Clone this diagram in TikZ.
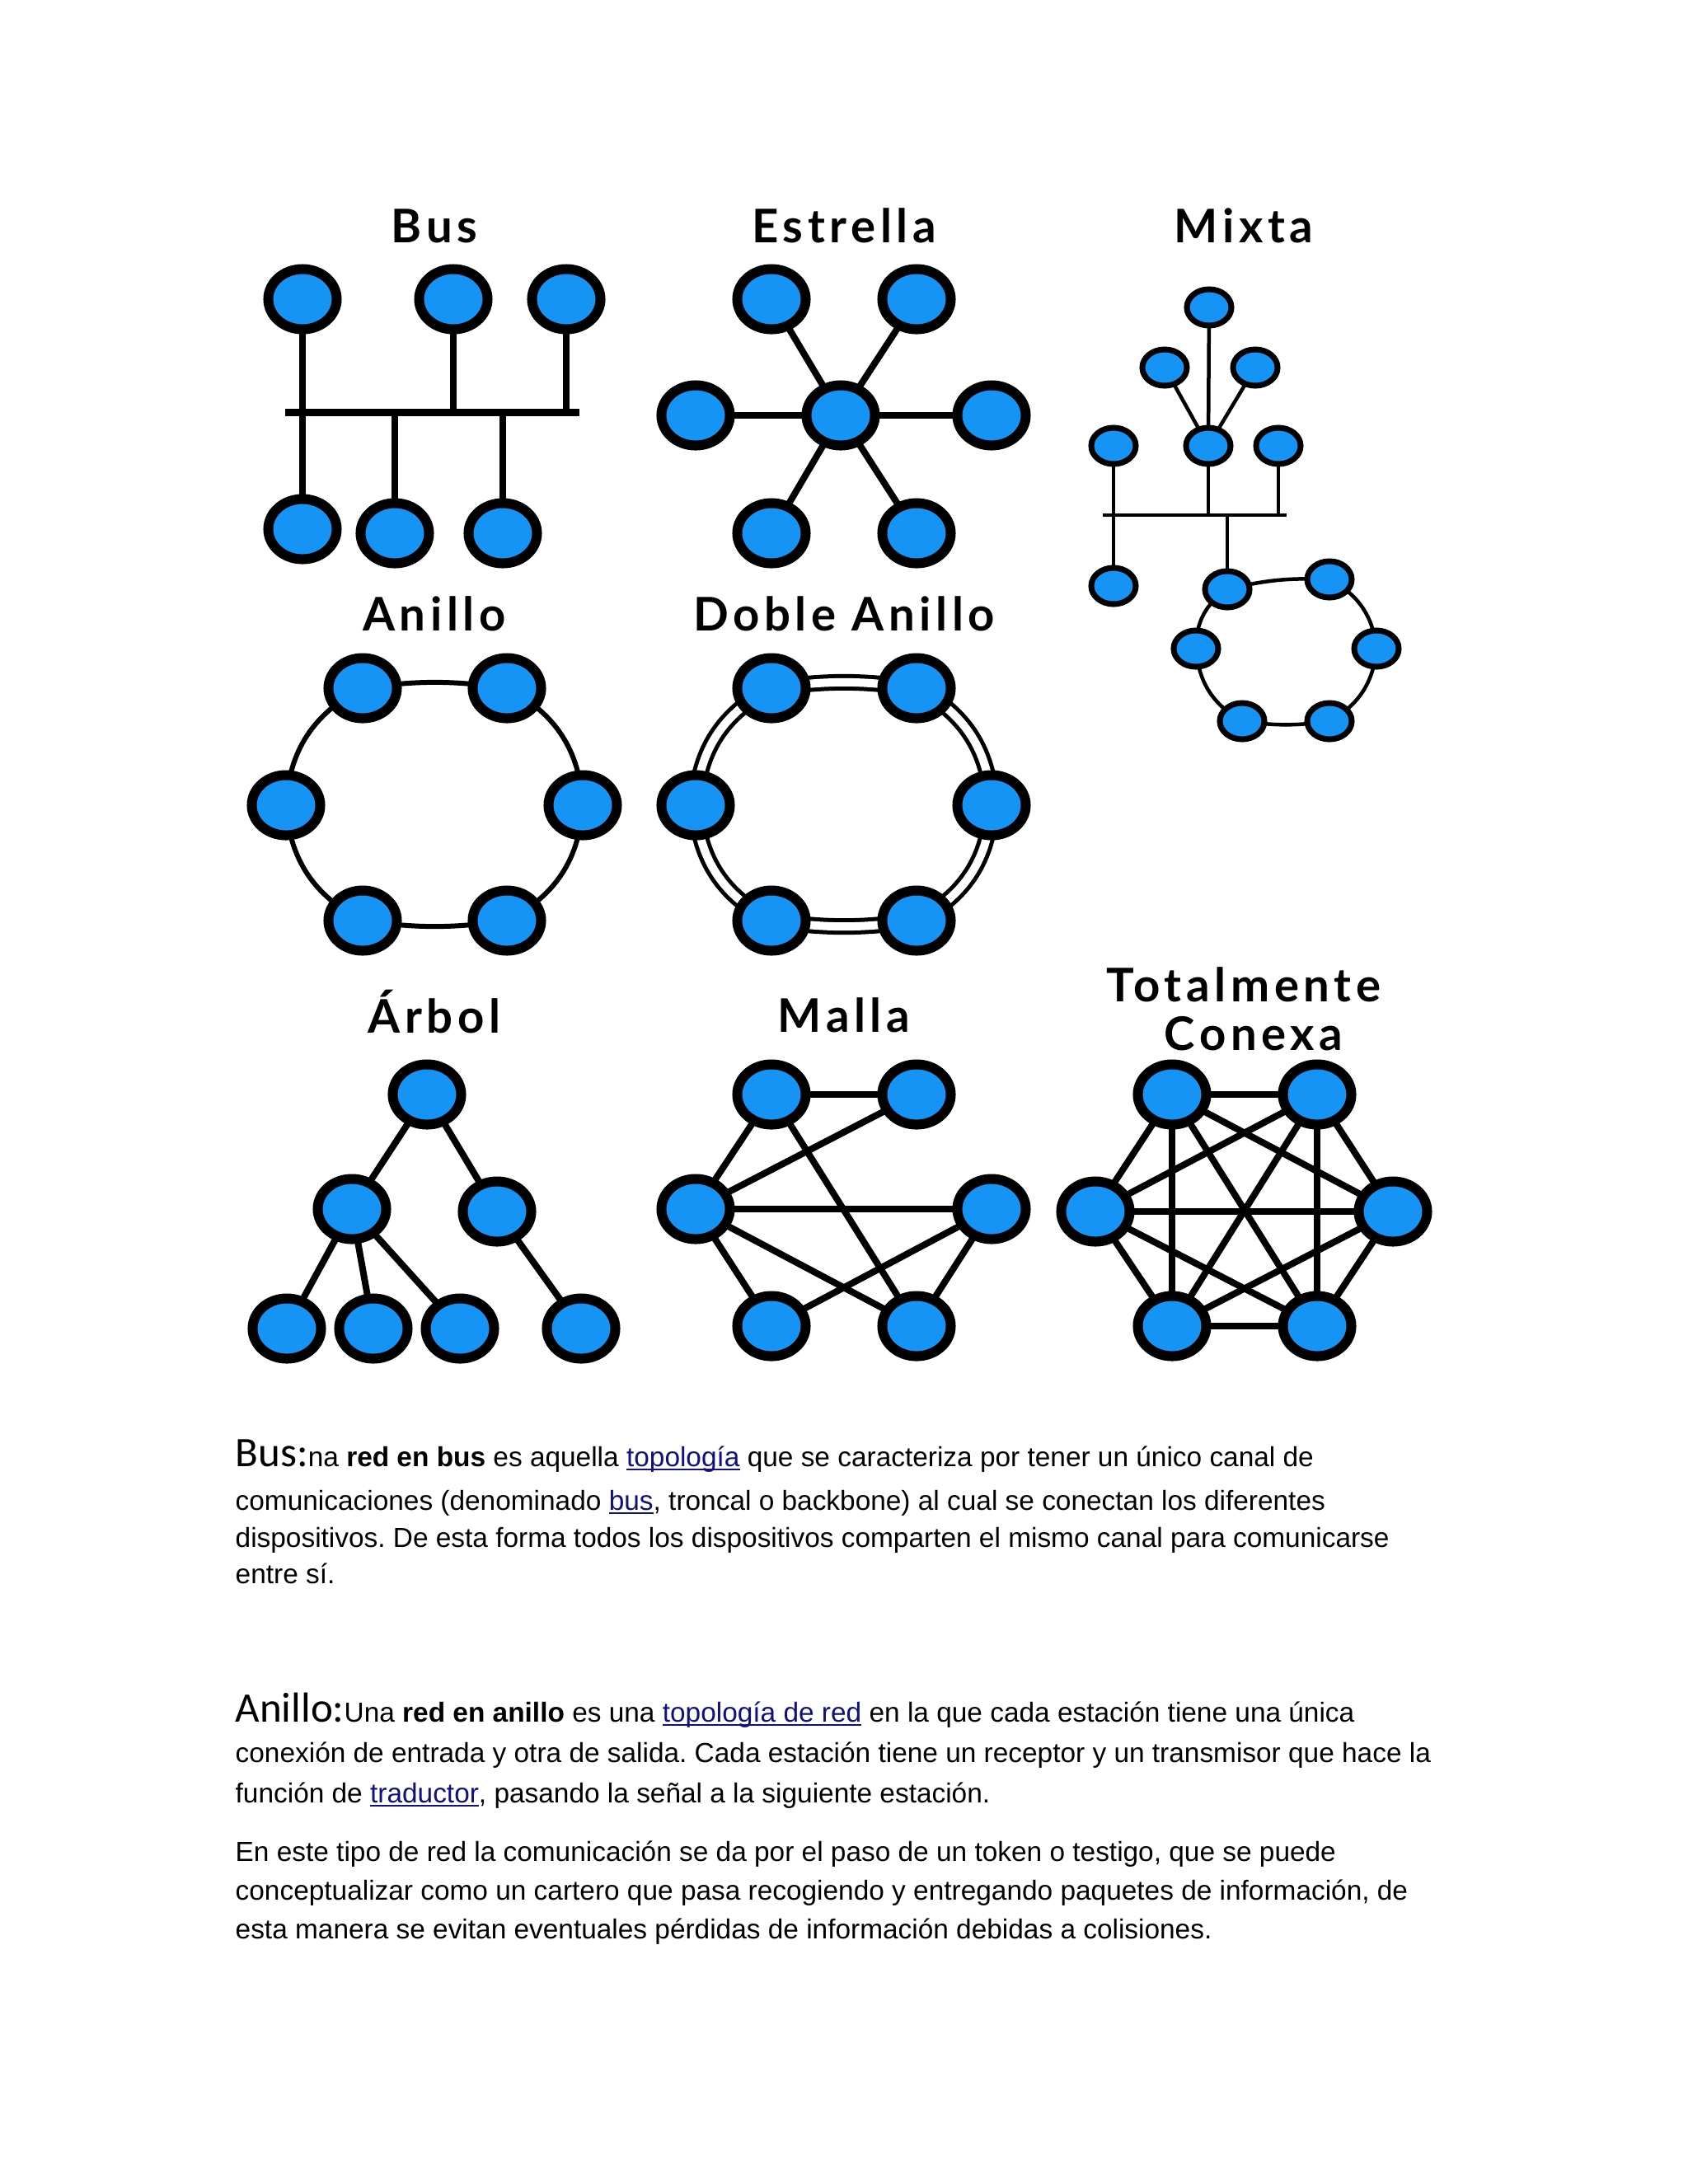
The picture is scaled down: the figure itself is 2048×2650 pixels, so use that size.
\documentclass[tikz,border=0pt]{standalone}
\usepackage{fontspec}
\setmainfont{Liberation Sans}
\newfontfamily\headfont{Carlito}
\newfontfamily\titlefont{Lato}[LetterSpace=10.0]
\usepackage{xcolor}
\usetikzlibrary{shapes.geometric, backgrounds}
\definecolor{nodeblue}{RGB}{22,148,246}
\definecolor{linkblue}{RGB}{16,16,128}
\tikzset{
  host/.style={ellipse, draw=black, fill=nodeblue, line width=0.12cm,
    minimum width=0.83cm, minimum height=0.73cm, inner sep=0pt},
  smallhost/.style={host, line width=0.07cm, minimum width=0.54cm, minimum height=0.44cm},
  link/.style={line width=0.08cm},
  thinlink/.style={line width=0.045cm},
  ringlink/.style={line width=0.06cm},
  dualring/.style={line width=0.05cm, double=white, double distance=0.1cm},
  ttl/.style={font=\titlefont\bfseries\fontsize{16}{18}\selectfont, inner sep=0pt},
  para/.style={anchor=base west, inner sep=0pt, font=\fontsize{9.5}{12.6}\selectfont},
}
\newcommand{\lnk}[1]{\textcolor{linkblue}{\setbox0\hbox{#1}\rlap{\rule[-1.4pt]{\wd0}{0.55pt}}\box0}}
\newcommand{\bighead}[1]{{\headfont\fontsize{14.5}{16}\selectfont #1}}
\frenchspacing

\begin{document}
\begin{tikzpicture}[x=0.01cm, y=-0.01cm]
\useasboundingbox (0,0) rectangle (2048,2650);

% Bus
\node[ttl] (tbus) at (527,274) {Bus};
\node[host] (bt1) at (367,363) {};
\node[host] (bt2) at (550,363) {};
\node[host] (bt3) at (687,363) {};
\node[host] (bb1) at (367,642) {};
\node[host] (bb2) at (479,647) {};
\node[host] (bb3) at (610,647) {};
\coordinate (busL) at (346,500);
\coordinate (busR) at (703,500);

% Estrella
\node[ttl] (tstar) at (1024,274) {Estrella};
\node[host] (sc) at (1020,504) {};
\node[host] (st1) at (936,363) {};
\node[host] (st2) at (1112,363) {};
\node[host] (sl) at (844,504) {};
\node[host] (sr) at (1203,504) {};
\node[host] (sb1) at (936,647) {};
\node[host] (sb2) at (1112,647) {};

% Mixta
\node[ttl] (tmix) at (1509,274) {Mixta};
\node[smallhost] (mt) at (1467,373) {};
\node[smallhost] (mu1) at (1413,446) {};
\node[smallhost] (mu2) at (1523,446) {};
\node[smallhost] (ml) at (1351,541) {};
\node[smallhost] (mc) at (1466,541) {};
\node[smallhost] (mr) at (1551,541) {};
\node[smallhost] (mlow) at (1351,711) {};
\node[smallhost] (r1) at (1489,715) {};
\node[smallhost] (r2) at (1613,703) {};
\node[smallhost] (r3) at (1670,787) {};
\node[smallhost] (r4) at (1613,875) {};
\node[smallhost] (r5) at (1507,875) {};
\node[smallhost] (r6) at (1451,787) {};
\coordinate (mbusL) at (1338,625);
\coordinate (mbusR) at (1561,625);

% Anillo
\node[ttl] (tring) at (527,745) {Anillo};
\node[host] (a1) at (440,835) {};
\node[host] (a2) at (615,835) {};
\node[host] (a3) at (707,977) {};
\node[host] (a4) at (615,1117) {};
\node[host] (a5) at (440,1117) {};
\node[host] (a6) at (347,977) {};

% Doble Anillo
\node[ttl] (tdring) at (1024,745) {Doble Anillo};
\node[host] (d1) at (936,835) {};
\node[host] (d2) at (1112,835) {};
\node[host] (d3) at (1203,977) {};
\node[host] (d4) at (1112,1117) {};
\node[host] (d5) at (936,1117) {};
\node[host] (d6) at (844,977) {};

% Arbol
\node[ttl] (ttree) at (527,1228) {Árbol};
\node[host] (t0) at (518,1328) {};
\node[host] (t1) at (427,1467) {};
\node[host] (t2) at (603,1470) {};
\node[host] (t3) at (348,1612) {};
\node[host] (t4) at (453,1612) {};
\node[host] (t5) at (558,1612) {};
\node[host] (t6) at (705,1612) {};

% Malla
\node[ttl] (tmesh) at (1024,1232) {Malla};
\node[host] (m1) at (936,1328) {};
\node[host] (m2) at (1112,1328) {};
\node[host] (m3) at (844,1467) {};
\node[host] (m4) at (1203,1467) {};
\node[host] (m5) at (936,1609) {};
\node[host] (m6) at (1112,1609) {};

% Totalmente Conexa
\node[ttl] (tfull1) at (1509,1195) {Totalmente};
\node[ttl] (tfull2) at (1521,1254) {Conexa};
\node[host] (k1) at (1422,1328) {};
\node[host] (k2) at (1598,1328) {};
\node[host] (k3) at (1690,1470) {};
\node[host] (k4) at (1598,1609) {};
\node[host] (k5) at (1422,1609) {};
\node[host] (k6) at (1329,1470) {};

% connectors behind the hosts
\begin{scope}[on background layer]
\fill[white] (0,0) rectangle (2048,2650);
% bus
\draw[line width=0.09cm] (busL) -- (busR);
\foreach \n in {bt1,bt2,bt3,bb1,bb2,bb3}
  \draw[link] (\n.center) -- (\n.center |- busL);
% star
\foreach \n in {st1,st2,sl,sr,sb1,sb2}
  \draw[link] (sc.center) -- (\n.center);
% mixed
\draw[thinlink] (mbusL) -- (mbusR);
\foreach \n in {mt,mu1,mu2}
  \draw[thinlink] (mc.center) -- (\n.center);
\foreach \n in {mc,mr,r1}
  \draw[thinlink] (\n.center) -- (\n.center |- mbusL);
\draw[thinlink] (ml.center) -- (mlow.center);
\draw[thinlink] (r1.center) to[bend left=8] (r2.center) to[bend left=28] (r3.center)
  to[bend left=28] (r4.center) to[bend left=8] (r5.center) to[bend left=28] (r6.center)
  to[bend left=28] (r1.center);
% ring
\draw[ringlink] (a1.center) to[bend left=8] (a2.center) to[bend left=30] (a3.center)
  to[bend left=30] (a4.center) to[bend left=8] (a5.center) to[bend left=30] (a6.center)
  to[bend left=30] (a1.center);
% double ring
\draw[dualring] (d1.center) to[bend left=8] (d2.center) to[bend left=30] (d3.center)
  to[bend left=30] (d4.center) to[bend left=8] (d5.center) to[bend left=30] (d6.center)
  to[bend left=30] (d1.center);
% tree
\draw[link] (t0.center) -- (t1.center);
\draw[link] (t0.center) -- (t2.center);
\foreach \n in {t3,t4,t5}
  \draw[link] (t1.center) -- (\n.center);
\draw[link] (t2.center) -- (t6.center);
% mesh
\foreach \i/\j in {1/2,1/3,1/6,2/3,3/4,3/5,3/6,4/5,4/6}
  \draw[link] (m\i.center) -- (m\j.center);
% full
\foreach \i in {1,...,6}{
  \foreach \j in {1,...,6}{
    \ifnum\i<\j \draw[link] (k\i.center) -- (k\j.center);\fi
  }
}
\end{scope}

% text below
\node[para] (p1) at (285,1779) {\bighead{Bus:}na \textbf{red en bus} es aquella \lnk{topología} que se caracteriza por tener un único canal de};
\node[para] (p2) at (285,1832) {comunicaciones (denominado \lnk{bus}, troncal o backbone) al cual se conectan los diferentes};
\node[para] (p3) at (285,1877) {dispositivos. De esta forma todos los dispositivos comparten el mismo canal para comunicarse};
\node[para] (p4) at (285,1921) {entre sí.};

\node[para] (q1) at (285,2089) {\bighead{Anillo:}Una \textbf{red en anillo} es una \lnk{topología de red} en la que cada estación tiene una única};
\node[para] (q2) at (285,2138) {conexión de entrada y otra de salida. Cada estación tiene un receptor y un transmisor que hace la};
\node[para] (q3) at (285,2187) {función de \lnk{traductor}, pasando la señal a la siguiente estación.};
\node[para] (q4) at (285,2258) {En este tipo de red la comunicación se da por el paso de un token o testigo, que se puede};
\node[para] (q5) at (285,2305) {conceptualizar como un cartero que pasa recogiendo y entregando paquetes de información, de};
\node[para] (q6) at (285,2352) {esta manera se evitan eventuales pérdidas de información debidas a colisiones.};
\end{tikzpicture}
\end{document}
